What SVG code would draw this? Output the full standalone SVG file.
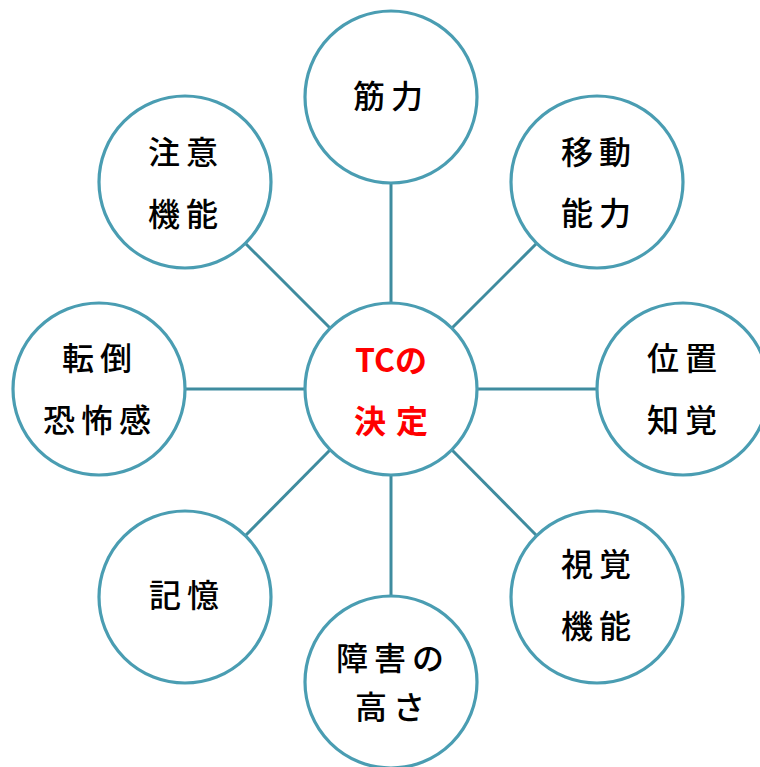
<svg xmlns="http://www.w3.org/2000/svg" width="760" height="767" viewBox="0 0 760 767">
<style>
.c{fill:#fff;stroke:#4A9DB2;stroke-width:3.2}
.t{font-family:"Noto Sans CJK JP","Noto Sans",sans-serif;font-size:32px;font-weight:500;fill:#000;text-anchor:middle;dominant-baseline:central;letter-spacing:6px}
.r{font-family:"Noto Sans CJK JP","Noto Sans",sans-serif;font-size:32px;font-weight:bold;fill:#FF0000;text-anchor:middle;dominant-baseline:central}
#connectors line{stroke:#3F8C9F;stroke-width:3}
</style>
<rect width="760" height="767" fill="#fff"/>
<g id="connectors">
<line x1="391" y1="183" x2="391" y2="303"/>
<line x1="537" y1="243" x2="452" y2="328"/>
<line x1="597" y1="389" x2="477" y2="389"/>
<line x1="537" y1="536" x2="452" y2="450"/>
<line x1="391" y1="597" x2="391" y2="475"/>
<line x1="245" y1="536" x2="330" y2="450"/>
<line x1="185" y1="389" x2="305" y2="389"/>
<line x1="245" y1="243" x2="330" y2="328"/>
</g>
<g id="center"><circle class="c" cx="391" cy="389" r="86"/>
<text class="r" x="391" y="358">TCの</text>
<text class="r" x="396" y="419" letter-spacing="10">決定</text></g>
<g id="kinryoku"><circle class="c" cx="391" cy="97" r="86"/>
<text class="t" x="391" y="94">筋力</text></g>
<g id="idou"><circle class="c" cx="597" cy="182" r="86"/>
<text class="t" x="599" y="150">移動</text><text class="t" x="599" y="211">能力</text></g>
<g id="ichi"><circle class="c" cx="683" cy="389" r="86"/>
<text class="t" x="685" y="356">位置</text><text class="t" x="685" y="418">知覚</text></g>
<g id="shikaku"><circle class="c" cx="597" cy="597" r="86"/>
<text class="t" x="599" y="562">視覚</text><text class="t" x="599" y="624">機能</text></g>
<g id="shougai"><circle class="c" cx="391" cy="682" r="86"/>
<text class="t" x="393" y="656">障害の</text><text class="t" x="393" y="705">高さ</text></g>
<g id="kioku"><circle class="c" cx="185" cy="597" r="86"/>
<text class="t" x="187" y="593">記憶</text></g>
<g id="tentou"><circle class="c" cx="99" cy="389" r="86"/>
<text class="t" x="100" y="356">転倒</text><text class="t" x="100" y="418">恐怖感</text></g>
<g id="chuui"><circle class="c" cx="185" cy="182" r="86"/>
<text class="t" x="186" y="150">注意</text><text class="t" x="186" y="212">機能</text></g>
</svg>
